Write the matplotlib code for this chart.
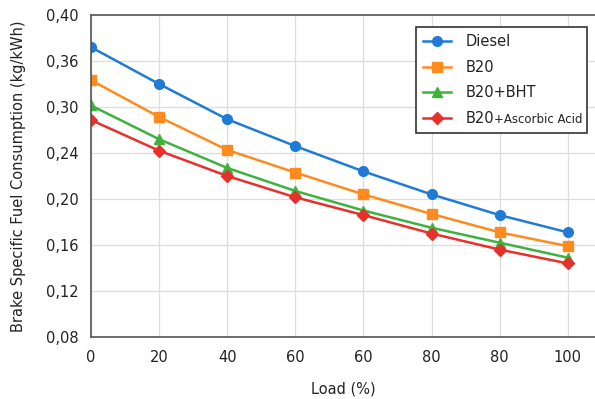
import numpy as np
import matplotlib
matplotlib.use('Agg')
import matplotlib.pyplot as plt

# Datos
x_labels = ['0', '20', '40', '60', '60', '80', '80', '100']
y_ticks = [0.08, 0.12, 0.16, 0.20, 0.24, 0.30, 0.36, 0.40]
y_tick_labels = ['0,08', '0,12', '0,16', '0,20', '0,24', '0,30', '0,36', '0,40']

diesel = [0.372, 0.330, 0.284, 0.249, 0.224, 0.204, 0.186, 0.171]
b20 = [0.335, 0.287, 0.244, 0.223, 0.204, 0.187, 0.171, 0.159]
b20_bht = [0.302, 0.258, 0.227, 0.207, 0.190, 0.175, 0.162, 0.149]
b20_aa = [0.283, 0.243, 0.220, 0.2015, 0.186, 0.170, 0.156, 0.144]

series = [
    ('Diesel', diesel, '#1F7BD6', 'o'),
    ('B20', b20, '#FF8A1E', 's'),
    ('B20+BHT', b20_bht, '#3DB33D', '^'),
    ('B20', b20_aa, '#E8302A', 'D'),
]

# Escala no lineal: las marcas del eje Y están igualmente espaciadas
idx = np.arange(len(y_ticks), dtype=float)
def forward(v):
    return np.interp(v, y_ticks, idx)
def inverse(v):
    return np.interp(v, idx, y_ticks)

fig = plt.figure(figsize=(5.95, 3.99), dpi=100)
ax = fig.add_axes([91 / 595, 62 / 399, 504 / 595, 322 / 399])
ax.set_yscale('function', functions=(forward, inverse))

x = np.arange(len(x_labels))
for name, vals, color, marker in series:
    ms = 7 if marker != 'D' else 6
    ax.plot(x, vals, color=color, marker=marker, markersize=ms, linewidth=1.8, label=name)

ax.set_xlim(0, 7.4)
ax.set_ylim(0.08, 0.40)
ax.set_xticks(x)
ax.set_xticklabels(x_labels)
ax.set_yticks(y_ticks)
ax.set_yticklabels(y_tick_labels)
ax.tick_params(axis='both', length=0, labelsize=10.5, colors='#222222')
ax.tick_params(axis='x', pad=9)
ax.tick_params(axis='y', pad=9)
ax.grid(True, color='#dddddd', linewidth=0.9)
ax.set_axisbelow(True)

for s in ['left', 'bottom', 'top']:
    ax.spines[s].set_color('#555555')
    ax.spines[s].set_linewidth(1.2)
ax.spines['right'].set_visible(False)

ax.set_xlabel('Load (%)', fontsize=10.5, color='#222222', labelpad=12)
ax.set_ylabel('Brake Specific Fuel Consumption (kg/kWh)', fontsize=10.5, color='#222222', labelpad=14)

leg = ax.legend(loc='upper left', bbox_to_anchor=(0.645, 0.634, 0.339, 0.329), mode='expand',
                borderaxespad=0, fontsize=10.5, frameon=True, fancybox=False, edgecolor='#333333',
                framealpha=1, borderpad=0.5, labelspacing=0.72, handlelength=1.9, handletextpad=1.0)
leg.get_frame().set_linewidth(1.2)
for t in leg.get_texts():
    t.set_color('#222222')

# "+Ascorbic Acid" en letra más pequeña, justo después de "B20"
fig.canvas.draw()
bb = leg.get_texts()[3].get_window_extent()
fx, fy = fig.transFigure.inverted().transform((bb.x1, bb.y0 + 2.6))
fig.text(fx, fy, '+Ascorbic Acid', fontsize=8.5, color='#222222', va='baseline', ha='left')

fig.savefig('out.png', dpi=100)
